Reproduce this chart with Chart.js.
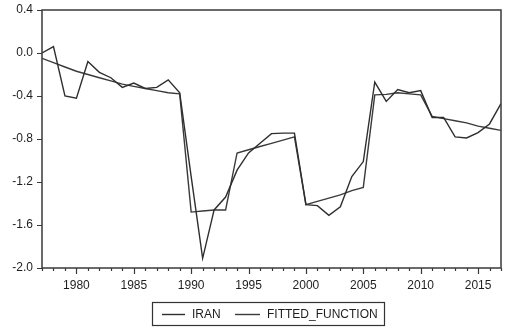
<!DOCTYPE html>
<html>
<head>
<meta charset="utf-8">
<script src="https://cdn.jsdelivr.net/npm/chart.js@4/dist/chart.umd.min.js"></script>
<style>
html,body{margin:0;padding:0;background:#fff;}
#wrap{width:505px;height:330px;position:relative;}
</style>
</head>
<body>
<div id="wrap"><canvas id="c" width="505" height="330"></canvas></div>
<script>
const years = [1977,1978,1979,1980,1981,1982,1983,1984,1985,1986,1987,1988,1989,
  1990,1991,1992,1993,1994,1995,1996,1997,1998,1999,
  2000,2001,2002,2003,2004,2005,2006,2007,2008,2009,2010,
  2011,2012,2013,2014,2015,2016,2017];
const iran = [0.00,0.06,-0.40,-0.42,-0.08,-0.18,-0.23,-0.32,-0.28,-0.33,-0.32,-0.25,-0.37,
  -1.15,-1.91,-1.46,-1.34,-1.09,-0.93,-0.84,-0.75,-0.745,-0.745,
  -1.41,-1.42,-1.51,-1.43,-1.15,-1.01,-0.27,-0.45,-0.34,-0.37,-0.35,
  -0.60,-0.60,-0.78,-0.79,-0.74,-0.66,-0.47];
const fitted = [-0.05,-0.09,-0.13,-0.17,-0.20,-0.23,-0.26,-0.29,-0.31,-0.33,-0.35,-0.37,-0.38,
  -1.48,-1.47,-1.46,-1.46,-0.93,-0.90,-0.87,-0.84,-0.81,-0.78,
  -1.41,-1.38,-1.35,-1.32,-1.28,-1.25,-0.39,-0.385,-0.37,-0.38,-0.39,
  -0.59,-0.61,-0.63,-0.65,-0.68,-0.70,-0.72];
const seriesNames = ["IRAN","FITTED_FUNCTION"];
const yTicks = [-2.0,-1.6,-1.2,-0.8,-0.4,0.0,0.4];
const xLabelYears = [1980,1985,1990,1995,2000,2005,2010,2015];

const FONT = "'Liberation Sans', Arial, sans-serif";
const INK = '#1e1e1e';

const framePlugin = {
  id: 'frame',
  afterDraw(chart) {
    const ctx = chart.ctx, a = chart.chartArea;
    const xs = chart.scales.x, ys = chart.scales.y;
    ctx.save();
    ctx.strokeStyle = '#3a3a3a';
    ctx.lineWidth = 1.5;
    ctx.strokeRect(a.left, a.top, a.right - a.left, a.bottom - a.top);
    ctx.lineWidth = 1.2;
    ctx.beginPath();
    years.forEach(yr => {
      const px = Math.round(xs.getPixelForValue(yr)) + 0.5;
      const len = xLabelYears.includes(yr) ? 6 : 3;
      ctx.moveTo(px, a.bottom);
      ctx.lineTo(px, a.bottom + len);
    });
    yTicks.forEach(v => {
      const py = Math.round(ys.getPixelForValue(v)) + 0.5;
      ctx.moveTo(a.left, py);
      ctx.lineTo(a.left - 5, py);
    });
    ctx.stroke();

    const bx = 152, by = 302, bw = 232, bh = 23;
    ctx.lineWidth = 1.2;
    ctx.strokeStyle = '#333';
    ctx.strokeRect(bx + 0.5, by + 0.5, bw, bh);
    ctx.font = '12px ' + FONT;
    ctx.fillStyle = INK;
    ctx.textBaseline = 'middle';
    const ly = by + bh / 2 + 1;
    const items = [{x1: 162, x2: 185, tx: 192}, {x1: 235, x2: 260, tx: 267}];
    chart.data.datasets.forEach((ds, i) => {
      const it = items[i];
      ctx.strokeStyle = ds.borderColor;
      ctx.lineWidth = 1.4;
      ctx.beginPath();
      ctx.moveTo(it.x1, ly);
      ctx.lineTo(it.x2, ly);
      ctx.stroke();
      ctx.fillText(ds.label, it.tx, ly + 0.5);
    });
    ctx.restore();
  }
};

new Chart(document.getElementById('c'), {
  type: 'line',
  data: {
    datasets: [
      {label: seriesNames[0], data: years.map((y, i) => ({x: y, y: iran[i]})),
       borderColor: '#2e2e2e', borderWidth: 1.4, pointRadius: 0, tension: 0, fill: false},
      {label: seriesNames[1], data: years.map((y, i) => ({x: y, y: fitted[i]})),
       borderColor: '#3a3a3a', borderWidth: 1.4, pointRadius: 0, tension: 0, fill: false}
    ]
  },
  options: {
    responsive: false,
    animation: false,
    devicePixelRatio: 1,
    layout: {padding: {left: 0, right: 4, top: 10, bottom: 0}},
    plugins: {legend: {display: false}, tooltip: {enabled: false}},
    scales: {
      x: {
        type: 'linear', min: 1977, max: 2017,
        afterFit(s) { s.height = 62; s.paddingLeft = 0; s.paddingRight = 0; },
        afterBuildTicks(s) { s.ticks = xLabelYears.map(v => ({value: v})); },
        grid: {display: false, drawTicks: false},
        border: {display: false},
        ticks: {
          autoSkip: false, maxRotation: 0, padding: 10,
          color: INK, font: {family: FONT, size: 12},
          callback: v => String(v)
        }
      },
      y: {
        min: -2.0, max: 0.4,
        afterFit(s) { s.width = 42; s.paddingTop = 0; s.paddingBottom = 0; },
        afterBuildTicks(s) { s.ticks = yTicks.map(v => ({value: v})); },
        grid: {display: false, drawTicks: false},
        border: {display: false},
        ticks: {
          padding: 9, color: INK, font: {family: FONT, size: 12},
          callback: v => { let r = Math.round(v * 10) / 10; if (r === 0) r = 0; return r.toFixed(1); }
        }
      }
    }
  },
  plugins: [framePlugin]
});
</script>
</body>
</html>
